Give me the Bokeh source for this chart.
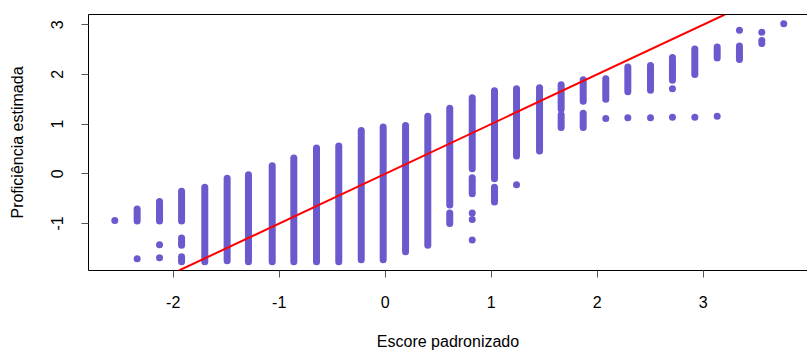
from bokeh.plotting import figure
from bokeh.models import Range1d, LinearAxis, FixedTicker, Slope, ColumnDataSource
from bokeh.embed import file_html
from bokeh.resources import INLINE

# ---- data ----
# continuous runs of overplotted points in each score column
run_x = [-2.340, -2.129, -1.921, -1.921, -1.921, -1.702, -1.491, -1.290, -1.066,
         -0.862, -0.648, -0.438, -0.226, -0.019, 0.192, 0.402, 0.609, 0.609,
         0.821, 0.821, 1.031, 1.031, 1.239, 1.456, 1.660, 1.660, 1.868, 1.868,
         2.081, 2.289, 2.503, 2.710, 2.921, 3.132, 3.342]
run_lo = [-0.95, -0.95, -0.95, -1.44, -1.77, -1.77, -1.75, -1.77, -1.77,
          -1.77, -1.77, -1.77, -1.73, -1.73, -1.57, -1.44, -0.63, -1.00,
          0.10, -0.40, -0.10, -0.57, 0.36, 0.46, 1.30, 0.93, 1.46, 0.93,
          1.50, 1.65, 1.68, 1.88, 2.00, 2.33, 2.30]
run_hi = [-0.71, -0.56, -0.35, -1.29, -1.67, -0.27, -0.09, -0.02, 0.16,
          0.32, 0.52, 0.56, 0.87, 0.94, 0.97, 1.16, 1.32, -0.79,
          1.53, -0.08, 1.67, -0.27, 1.71, 1.73, 1.79, 1.19, 1.89, 1.22,
          1.91, 2.15, 2.18, 2.34, 2.51, 2.55, 2.57]

# isolated points
pt_x = [-2.551, -2.340, -2.129, -2.129, 0.821, 0.821, 0.821, 1.239, 2.081,
        2.289, 2.503, 2.710, 2.710, 2.921, 3.132, 3.342, 3.553, 3.553, 3.553, 3.760]
pt_y = [-0.94, -1.71, -1.43, -1.69, -0.79, -0.92, -1.33, -0.22, 1.11,
        1.13, 1.13, 1.71, 1.14, 1.14, 1.16, 2.89, 2.85, 2.68, 2.62, 3.02]

# reference line
line_intercept = 0
line_slope = 1

x_ticks = [-2, -1, 0, 1, 2, 3]
x_tick_labels = ["-2", "-1", "0", "1", "2", "3"]
y_ticks = [-1, 0, 1, 2, 3]
y_tick_labels = ["-1", "0", "1", "2", "3"]

COLOR = "#6A5ACD"
FONT = "Liberation Sans"

p = figure(width=807, height=352, output_backend="svg", toolbar_location=None,
           x_range=Range1d(-2.799, 3.984), y_range=Range1d(-1.946, 3.205),
           x_axis_type=None, y_axis_type=None,
           min_border_left=88, min_border_right=0, min_border_top=14, min_border_bottom=82)
p.outline_line_color = None
p.grid.visible = False
p.background_fill_color = "white"
p.border_fill_color = "white"


def style_axis(ax, standoff, label_standoff):
    ax.axis_line_color = "black"
    ax.axis_line_width = 1
    ax.major_tick_line_color = "#555555"
    ax.major_tick_in = 0
    ax.major_tick_out = 7
    ax.minor_tick_line_color = None
    ax.major_label_text_font = FONT
    ax.major_label_text_font_size = "16px"
    ax.major_label_text_color = "black"
    ax.major_label_standoff = standoff
    ax.axis_label_text_font = FONT
    ax.axis_label_text_font_size = "16px"
    ax.axis_label_text_font_style = "normal"
    ax.axis_label_text_color = "black"
    ax.axis_label_standoff = label_standoff


xaxis = LinearAxis(ticker=FixedTicker(ticks=x_ticks), axis_label="Escore padronizado",
                   major_label_overrides={t: s for t, s in zip(x_ticks, x_tick_labels)})
style_axis(xaxis, 18, 22)
p.add_layout(xaxis, "below")

yaxis = LinearAxis(ticker=FixedTicker(ticks=y_ticks), axis_label="Proficiência estimada",
                   major_label_overrides={t: s for t, s in zip(y_ticks, y_tick_labels)})
style_axis(yaxis, 18, 23)
yaxis.major_label_orientation = "vertical"
p.add_layout(yaxis, "left")

top = LinearAxis(ticker=FixedTicker(ticks=[]))
top.axis_line_color = "black"
top.major_tick_out = 0
top.major_tick_in = 0
top.minor_tick_line_color = None
top.major_label_text_font_size = "0px"
top.major_label_standoff = 0
p.add_layout(top, "above")

runs = ColumnDataSource(dict(x=run_x, lo=run_lo, hi=run_hi))
p.segment(x0="x", y0="lo", x1="x", y1="hi", source=runs,
          line_color=COLOR, line_width=7, line_cap="round")

pts = ColumnDataSource(dict(x=pt_x, y=pt_y))
p.scatter(x="x", y="y", source=pts, marker="circle", size=7,
          fill_color=COLOR, line_color=None)

p.add_layout(Slope(gradient=line_slope, y_intercept=line_intercept,
                   line_color="red", line_width=2))

open("out.html", "w").write(file_html(p, INLINE))
